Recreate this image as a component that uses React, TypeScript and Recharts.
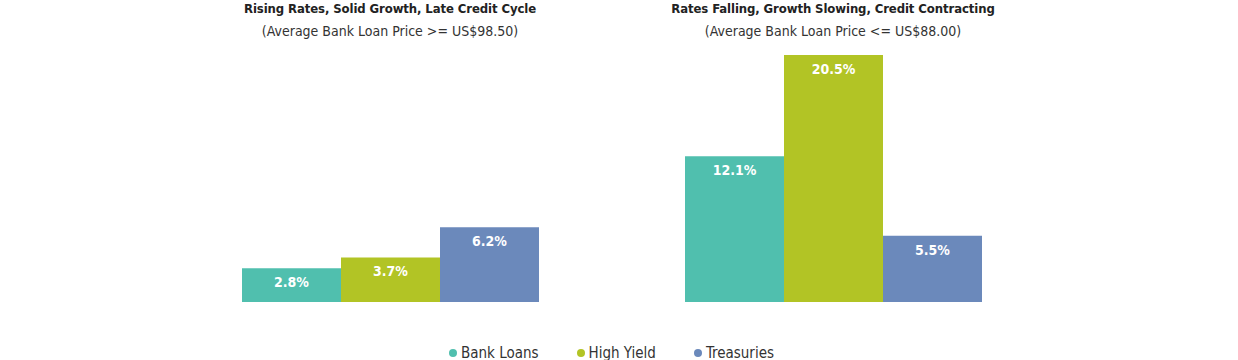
import { BarChart, Bar, XAxis, YAxis, Legend, LabelList } from "recharts";

const scenarios = [
    "Rising Rates, Solid Growth, Late Credit Cycle",
    "Rates Falling, Growth Slowing, Credit Contracting",
];
const subtitles = ["(Average Bank Loan Price >= US$98.50)", "(Average Bank Loan Price <= US$88.00)"];
const bankLoans = [2.8, 12.1];
const highYield = [3.7, 20.5];
const treasuries = [6.2, 5.5];

const series = [
    { key: "bankLoans", name: "Bank Loans", color: "#50bfae" },
    { key: "highYield", name: "High Yield", color: "#b2c425" },
    { key: "treasuries", name: "Treasuries", color: "#6b89bb" },
];

const data = scenarios.map((s, i) => ({
    scenario: s,
    subtitle: subtitles[i],
    bankLoans: bankLoans[i],
    highYield: highYield[i],
    treasuries: treasuries[i],
}));

const FONT = "'Liberation Sans Narrow', 'DejaVu Sans Condensed', 'Roboto', sans-serif";

function TitleTick(props: any) {
    const { x, payload, index } = props;
    return (
        <g>
            <text x={x} y={13} textAnchor="middle" fontFamily={FONT} fontSize={13} letterSpacing={-0.1} fontWeight="bold" fill="#222">
                {payload.value}
            </text>
            <text x={x} y={36} textAnchor="middle" fontFamily={FONT} fontSize={14} fill="#333">
                {subtitles[index]}
            </text>
        </g>
    );
}

function LegendContent(props: any) {
    return (
        <div style={{ display: "flex", justifyContent: "center", height: 20, fontFamily: FONT, fontSize: 15, color: "#333" }}>
            {props.payload.map((p: any) => (
                <div key={p.value} style={{ display: "flex", alignItems: "center", margin: "0 19px" }}>
                    <span style={{ width: 8, height: 8, borderRadius: 4, background: p.color, marginRight: 4 }} />
                    <span>{p.value}</span>
                </div>
            ))}
        </div>
    );
}

export default function App() {
    return (
        <div style={{ position: "absolute", left: 0, top: 0 }}>
            <BarChart
                width={1238}
                height={360}
                data={data}
                barGap={0}
                barCategoryGap={73.5}
                margin={{ top: 0, right: 183.5, left: 168.5, bottom: 38 }}>
                <XAxis
                    dataKey="scenario"
                    orientation="top"
                    height={55}
                    axisLine={false}
                    tickLine={false}
                    interval={0}
                    tick={<TitleTick />}
                />
                <YAxis hide domain={[0, 20.5]} />
                <Legend content={<LegendContent />} wrapperStyle={{ top: 343, bottom: "auto" }} />
                {series.map((s) => (
                    <Bar key={s.key} dataKey={s.key} name={s.name} fill={s.color} isAnimationActive={false}>
                        <LabelList
                            dataKey={s.key}
                            position="insideTop"
                            offset={9}
                            fill="#fff"
                            fontFamily={FONT}
                            fontSize={14}
                            fontWeight="bold"
                            formatter={(v: any) => `${v}%`}
                        />
                    </Bar>
                ))}
            </BarChart>
        </div>
    );
}
